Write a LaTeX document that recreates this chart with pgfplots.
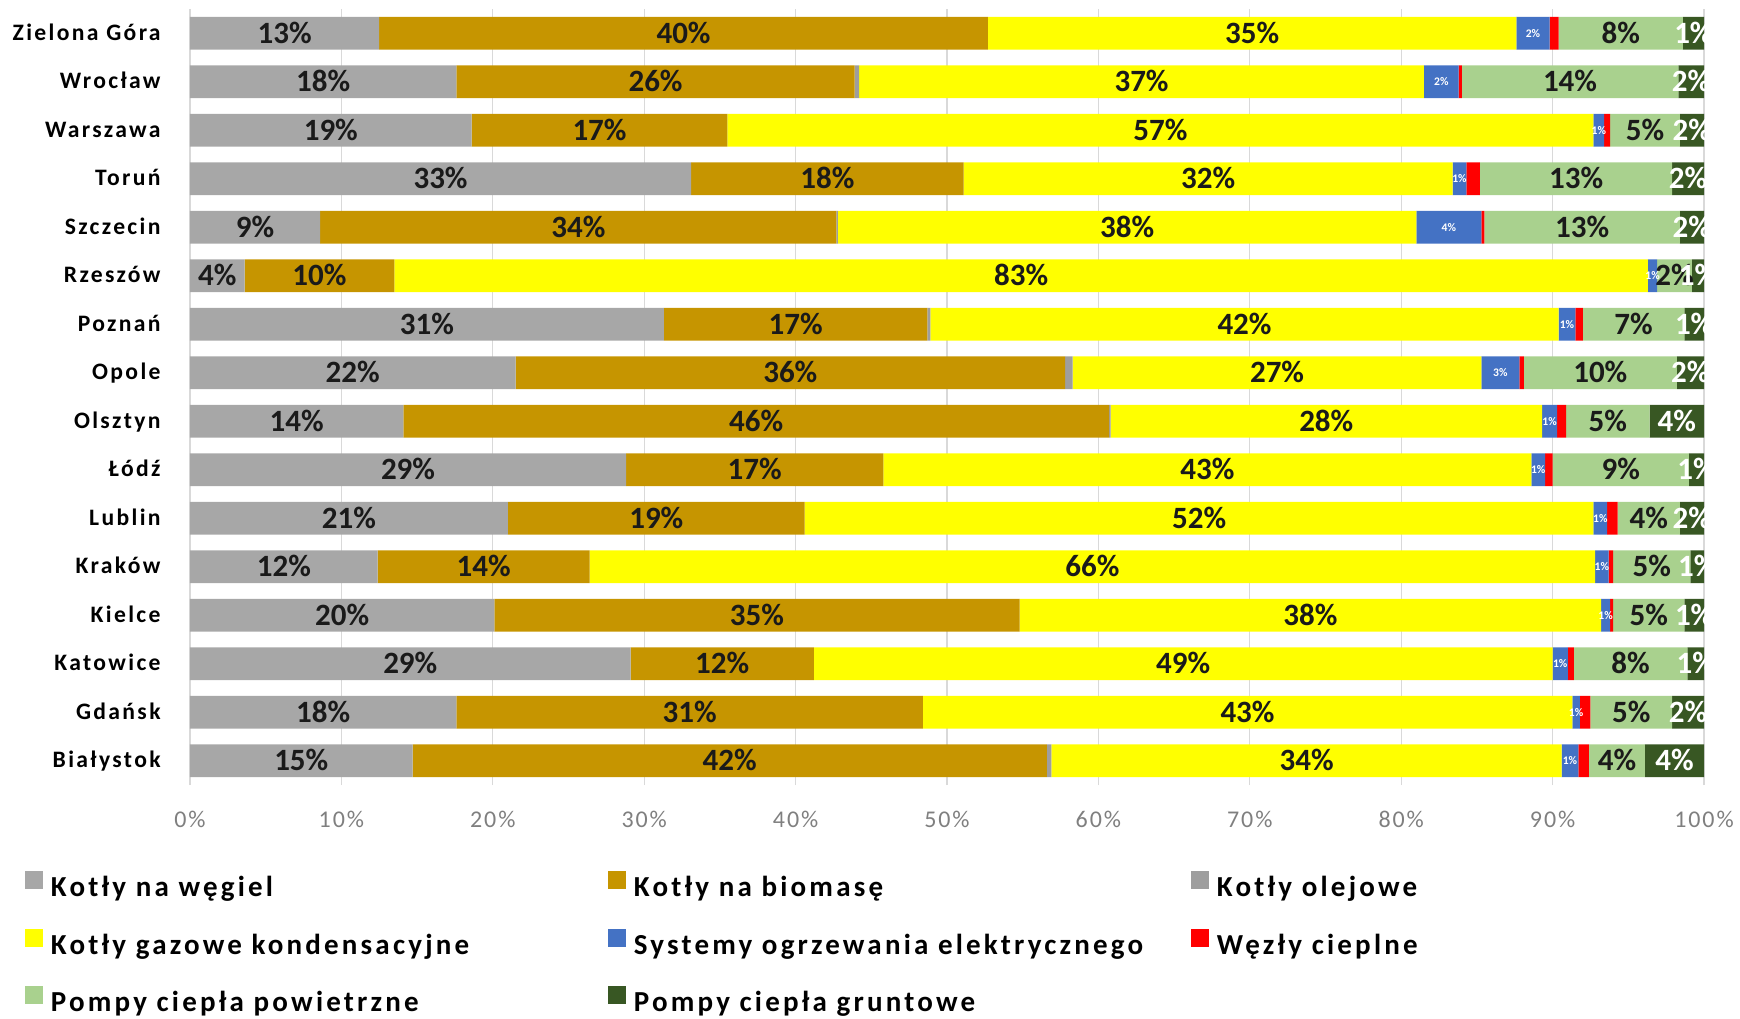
\documentclass[border=0pt]{standalone}
\usepackage{fontspec}
\setmainfont{Carlito}
\newfontfamily\cityfont[LetterSpace=10]{Carlito}
\newfontfamily\legfont[LetterSpace=11]{Carlito}
\newfontfamily\tickfont[LetterSpace=8]{Carlito}
\usepackage{pgfplots}
\usepackage{pgfplotstable}
\pgfplotsset{compat=1.18}

\definecolor{coalc}{HTML}{A7A7A7}
\definecolor{bioc}{HTML}{C69500}
\definecolor{oilc}{HTML}{9E9E9E}
\definecolor{gasc}{HTML}{FFFF00}
\definecolor{elc}{HTML}{4472C4}
\definecolor{nodec}{HTML}{FF0000}
\definecolor{airc}{HTML}{A9D18E}
\definecolor{gndc}{HTML}{385723}
\definecolor{gridc}{HTML}{D9D9D9}
\definecolor{tickc}{HTML}{7F7F7F}
\definecolor{labc}{HTML}{1A1A1A}

\pgfplotstableread{
idx coal bio oil gas el node air gnd Lcoal Lbio Lgas Lel Lair Lgnd
0 14.7 41.9 0.3 33.7 1.1 0.7 3.7 3.9 15 42 34 1 4 4
1 17.6 30.8 0.0 42.9 0.5 0.7 5.4 2.1 18 31 43 1 5 2
2 29.1 12.1 0.0 48.8 1.0 0.4 7.5 1.1 29 12 49 1 8 1
3 20.1 34.7 0.0 38.4 0.6 0.2 4.7 1.3 20 35 38 1 5 1
4 12.4 14.0 0.0 66.4 0.9 0.3 5.1 0.9 12 14 66 1 5 1
5 21.0 19.6 0.0 52.1 0.9 0.7 4.1 1.6 21 19 52 1 4 2
6 28.8 17.0 0.0 42.8 0.9 0.5 9.0 1.0 29 17 43 1 9 1
7 14.1 46.6 0.1 28.5 1.0 0.6 5.5 3.6 14 46 28 1 5 4
8 21.5 36.3 0.5 27.0 2.5 0.3 10.1 1.8 22 36 27 3 10 2
9 31.3 17.4 0.2 41.5 1.1 0.5 6.7 1.3 31 17 42 1 7 1
10 3.6 9.9 0.0 82.8 0.6 0.0 2.3 0.8 4 10 83 1 2 1
11 8.6 34.1 0.1 38.2 4.3 0.2 12.9 1.6 9 34 38 4 13 2
12 33.1 18.0 0.0 32.3 0.9 0.9 12.7 2.1 33 18 32 1 13 2
13 18.6 16.9 0.0 57.2 0.7 0.4 4.6 1.6 19 17 57 1 5 2
14 17.6 26.3 0.3 37.3 2.3 0.2 14.3 1.7 18 26 37 2 14 2
15 12.5 40.2 0.0 34.9 2.2 0.6 8.2 1.4 13 40 35 2 8 1
}\datatable

\pgfplotsset{
  base/.style={width=757pt, height=388pt, scale only axis,
    xmin=0, xmax=100, ymin=-0.5, ymax=15.5},
  leg/.style={legend image code/.code={\fill[##1] (0pt,-0.2pt) rectangle (9pt,8.8pt);}},
  lbl/.style={draw=none, mark=none, forget plot, point meta=explicit symbolic,
    nodes near coords={\pgfplotspointmeta\%},
    every node near coord/.append style={anchor=center, inner sep=0pt,
      font=\bfseries\fontsize{15.5}{16}\selectfont, text height=10pt, text depth=0pt, text=#1}},
  slbl/.style={draw=none, mark=none, forget plot, point meta=explicit symbolic,
    nodes near coords={\pgfplotspointmeta\%},
    every node near coord/.append style={anchor=center, inner sep=0pt,
      font=\bfseries\fontsize{5.8}{6}\selectfont, text height=3.8pt, text depth=0pt, text=white}},
}

\begin{document}
\begin{tikzpicture}
\path[use as bounding box] (-95pt,-116.5pt) rectangle (775pt,392.5pt);
\begin{axis}[base,
  xbar stacked, bar width=0.68,
  axis lines=left, axis line style={draw=none},
  xmajorgrids, grid style={draw=gridc, line width=0.6pt},
  major tick length=0pt,
  xtick={0,10,20,30,40,50,60,70,80,90,100},
  xticklabels={0\%,10\%,20\%,30\%,40\%,50\%,60\%,70\%,80\%,90\%,100\%},
  xticklabel style={font=\tickfont\fontsize{12}{13}\selectfont, text=tickc, anchor=center, yshift=-17pt},
  ytick={0,...,15},
  yticklabels={Białystok,Gdańsk,Katowice,Kielce,Kraków,Lublin,Łódź,Olsztyn,Opole,Poznań,Rzeszów,Szczecin,Toruń,Warszawa,Wrocław,Zielona Góra},
  yticklabel style={font=\cityfont\bfseries\fontsize{11.8}{12}\selectfont, anchor=east, inner sep=0pt, xshift=-14.5pt, text height=9pt, text depth=1.8pt},
  legend columns=3,
  legend cell align=left,
  legend style={at={(-0.109,-0.111)}, anchor=north west, draw=none, fill=none,
    inner sep=0pt, outer sep=0pt, column sep=0pt, row sep=13pt,
    font=\legfont\bfseries\fontsize{14.5}{15}\selectfont,
    nodes={text width=274.5pt, text height=11pt, text depth=3pt, inner xsep=4pt, inner ysep=0pt, align=left}},
]
\addplot[fill=coalc, draw=none, leg] table[x=coal, y=idx] {\datatable};
\addlegendentry{Kotły na węgiel}
\addplot[fill=bioc, draw=none, leg] table[x=bio, y=idx] {\datatable};
\addlegendentry{Kotły na biomasę}
\addplot[fill=oilc, draw=none, leg] table[x=oil, y=idx] {\datatable};
\addlegendentry{Kotły olejowe}
\addplot[fill=gasc, draw=none, leg] table[x=gas, y=idx] {\datatable};
\addlegendentry{Kotły gazowe kondensacyjne}
\addplot[fill=elc, draw=none, leg] table[x=el, y=idx] {\datatable};
\addlegendentry{Systemy ogrzewania elektrycznego}
\addplot[fill=nodec, draw=none, leg] table[x=node, y=idx] {\datatable};
\addlegendentry{Węzły cieplne}
\addplot[fill=airc, draw=none, leg] table[x=air, y=idx] {\datatable};
\addlegendentry{Pompy ciepła powietrzne}
\addplot[fill=gndc, draw=none, leg] table[x=gnd, y=idx] {\datatable};
\addlegendentry{Pompy ciepła gruntowe}
\end{axis}
\begin{axis}[base, hide axis, clip mode=global]
\addplot[lbl=labc] table[x expr={\thisrow{coal}/2}, y=idx, meta=Lcoal] {\datatable};
\addplot[lbl=labc] table[x expr={\thisrow{coal}+\thisrow{bio}/2}, y=idx, meta=Lbio] {\datatable};
\addplot[lbl=labc] table[x expr={\thisrow{coal}+\thisrow{bio}+\thisrow{oil}+\thisrow{gas}/2}, y=idx, meta=Lgas] {\datatable};
\addplot[slbl] table[x expr={\thisrow{coal}+\thisrow{bio}+\thisrow{oil}+\thisrow{gas}+\thisrow{el}/2}, y=idx, meta=Lel] {\datatable};
\addplot[lbl=labc] table[x expr={\thisrow{coal}+\thisrow{bio}+\thisrow{oil}+\thisrow{gas}+\thisrow{el}+\thisrow{node}+\thisrow{air}/2}, y=idx, meta=Lair] {\datatable};
\addplot[lbl=white] table[x expr={100-\thisrow{gnd}/2}, y=idx, meta=Lgnd] {\datatable};
\end{axis}
\end{tikzpicture}
\end{document}
